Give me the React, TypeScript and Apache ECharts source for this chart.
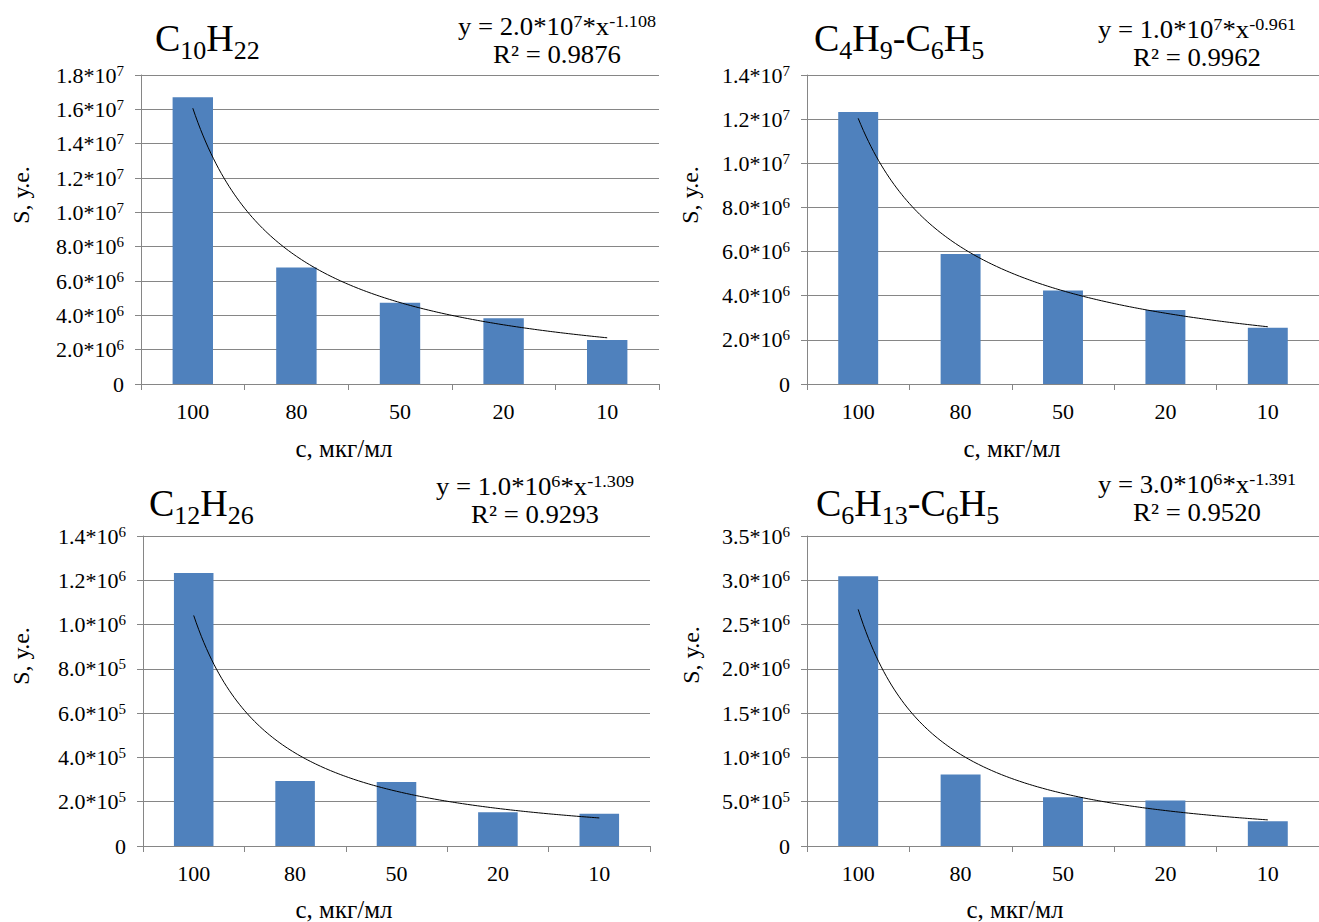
import React, { useEffect, useRef } from "react";
import * as echarts from "echarts";

// ---- data ----
const categories = ["100", "80", "50", "20", "10"];
const c10h22 = [1.67e7, 6.78e6, 4.74e6, 3.83e6, 2.56e6];
const c4h9c6h5 = [1.232e7, 5.89e6, 4.24e6, 3.35e6, 2.55e6];
const c12h26 = [1.233e6, 2.94e5, 2.89e5, 1.52e5, 1.46e5];
const c6h13c6h5 = [3.045e6, 8.07e5, 5.5e5, 5.13e5, 2.79e5];
const seriesValues = [c10h22, c4h9c6h5, c12h26, c6h13c6h5];
const yMax = [1.8e7, 1.4e7, 1.4e6, 3.5e6];
const yInterval = [2e6, 2e6, 2e5, 5e5];

const titles = [
  "{b|C}{s|10}{b|H}{s|22}",
  "{b|C}{s|4}{b|H}{s|9}{b|-C}{s|6}{b|H}{s|5}",
  "{b|C}{s|12}{b|H}{s|26}",
  "{b|C}{s|6}{b|H}{s|13}{b|-C}{s|6}{b|H}{s|5}",
];
const eqCoef = ["2.0", "1.0", "1.0", "3.0"];
const eqPow = ["7", "7", "6", "6"];
const eqExp = ["-1.108", "-0.961", "-1.309", "-1.391"];
const r2 = ["0.9876", "0.9962", "0.9293", "0.9520"];
const yName = "S, у.е.";
const xName = "c, мкг/мл";

// ---- layout ----
const grids = [
  { left: 141, top: 75, width: 518, height: 309 },
  { left: 807, top: 75, width: 519, height: 309 },
  { left: 143, top: 536, width: 507, height: 310 },
  { left: 807, top: 536, width: 516, height: 310 },
];
const titlePos = [[155, 38], [814, 38], [149, 503], [816, 503]];
const eqPos = [[557, 41], [1197, 44], [535, 501], [1197, 499]];
const yNamePos = [[21, 195], [690, 195], [21, 656], [691, 655]];
const xNamePos = [[344, 448], [1012, 448], [344, 909], [1015, 909]];

const FONT = '"Liberation Serif", "Times New Roman", serif';
const GRID_COLOR = "#868686";
const BAR_COLOR = "#4F81BD";

function powerFit(vals: number[]): [number, number] {
  const n = vals.length;
  const lx = vals.map((_, i) => Math.log(i + 1));
  const ly = vals.map((v) => Math.log(v));
  const mx = lx.reduce((a, b) => a + b, 0) / n;
  const my = ly.reduce((a, b) => a + b, 0) / n;
  let sxy = 0;
  let sxx = 0;
  for (let i = 0; i < n; i++) {
    sxy += (lx[i] - mx) * (ly[i] - my);
    sxx += (lx[i] - mx) * (lx[i] - mx);
  }
  const b = sxy / sxx;
  const a = Math.exp(my - b * mx);
  return [a, b];
}

function trendPoints(vals: number[]): number[][] {
  const [a, b] = powerFit(vals);
  const pts: number[][] = [];
  const n = vals.length;
  for (let k = 0; k <= (n - 1) * 40; k++) {
    const x = 1 + k / 40;
    pts.push([x, a * Math.pow(x, b)]);
  }
  return pts;
}

function yFmt(v: number): string {
  if (v === 0) return "{b|0}";
  const e = Math.floor(Math.log10(v) + 1e-9);
  const m = (v / Math.pow(10, e)).toFixed(1);
  return `{b|${m}*10}{sp|${e}}`;
}

export default function App() {
  const ref = useRef<HTMLDivElement>(null);
  useEffect(() => {
    if (!ref.current) return;
    const chart = echarts.init(ref.current, undefined, { renderer: "svg" });

    const xAxes: any[] = [];
    const yAxes: any[] = [];
    const series: any[] = [];
    const graphic: any[] = [];

    grids.forEach((_, i) => {
      xAxes.push({
        type: "category",
        gridIndex: i,
        data: categories,
        axisLine: { show: true, lineStyle: { color: GRID_COLOR, width: 1 } },
        axisTick: { show: true, length: 6, lineStyle: { color: GRID_COLOR } },
        axisLabel: { fontFamily: FONT, fontSize: 22, color: "#000", margin: 16 },
        splitLine: { show: false },
      });
      yAxes.push({
        type: "value",
        gridIndex: i,
        min: 0,
        max: yMax[i],
        interval: yInterval[i],
        axisLine: { show: true, lineStyle: { color: GRID_COLOR, width: 1 } },
        axisTick: { show: true, length: 6, lineStyle: { color: GRID_COLOR } },
        splitLine: { show: true, lineStyle: { color: GRID_COLOR, width: 1 } },
        axisLabel: {
          margin: 17,
          formatter: yFmt,
          fontFamily: FONT,
          color: "#000",
          rich: {
            b: { fontFamily: FONT, fontSize: 22, lineHeight: 24, color: "#000" },
            sp: { fontFamily: FONT, fontSize: 15, verticalAlign: "top", color: "#000" },
          },
        },
      });
      series.push({
        type: "bar",
        xAxisIndex: i,
        yAxisIndex: i,
        data: seriesValues[i],
        barWidth: "39%",
        itemStyle: { color: BAR_COLOR },
        silent: true,
      });
    });
    grids.forEach((_, i) => {
      xAxes.push({
        type: "value",
        gridIndex: i,
        min: 0.5,
        max: 5.5,
        show: false,
      });
      series.push({
        type: "line",
        xAxisIndex: 4 + i,
        yAxisIndex: i,
        data: trendPoints(seriesValues[i]),
        showSymbol: false,
        symbol: "none",
        lineStyle: { color: "#000", width: 1 },
        silent: true,
        z: 5,
      });

      graphic.push({
        type: "text",
        x: titlePos[i][0],
        y: titlePos[i][1],
        silent: true,
        style: {
          text: titles[i],
          textAlign: "left",
          textVerticalAlign: "middle",
          fill: "#000",
          rich: {
            b: { fontFamily: FONT, fontSize: 38, lineHeight: 38, fill: "#000" },
            s: { fontFamily: FONT, fontSize: 26, lineHeight: 50, verticalAlign: "bottom", fill: "#000" },
          },
        },
      });
      graphic.push({
        type: "text",
        x: eqPos[i][0],
        y: eqPos[i][1],
        scaleX: 1.07,
        silent: true,
        style: {
          text: `{e|y = ${eqCoef[i]}*10}{sp|${eqPow[i]}}{e|*x}{sp|${eqExp[i]}}\n{e|R² = ${r2[i]}}`,
          textAlign: "center",
          textVerticalAlign: "middle",
          fill: "#000",
          rich: {
            e: { fontFamily: FONT, fontSize: 25, lineHeight: 28, fill: "#000" },
            sp: { fontFamily: FONT, fontSize: 17, verticalAlign: "top", fill: "#000" },
          },
        },
      });
      graphic.push({
        type: "text",
        x: yNamePos[i][0],
        y: yNamePos[i][1],
        rotation: Math.PI / 2,
        silent: true,
        style: {
          text: yName,
          font: `24px ${FONT}`,
          textAlign: "center",
          textVerticalAlign: "middle",
          fill: "#000",
        },
      });
      graphic.push({
        type: "text",
        x: xNamePos[i][0],
        y: xNamePos[i][1],
        silent: true,
        style: {
          text: xName,
          font: `25px ${FONT}`,
          textAlign: "center",
          textVerticalAlign: "middle",
          fill: "#000",
        },
      });
    });

    chart.setOption({
      animation: false,
      backgroundColor: "#fff",
      grid: grids.map((g) => ({ ...g, containLabel: false })),
      xAxis: xAxes,
      yAxis: yAxes,
      series,
      graphic,
    });
    return () => chart.dispose();
  }, []);

  return (
    <div
      ref={ref}
      style={{ position: "absolute", left: 0, top: 0, width: 1319, height: 922, background: "#fff" }}
    />
  );
}
